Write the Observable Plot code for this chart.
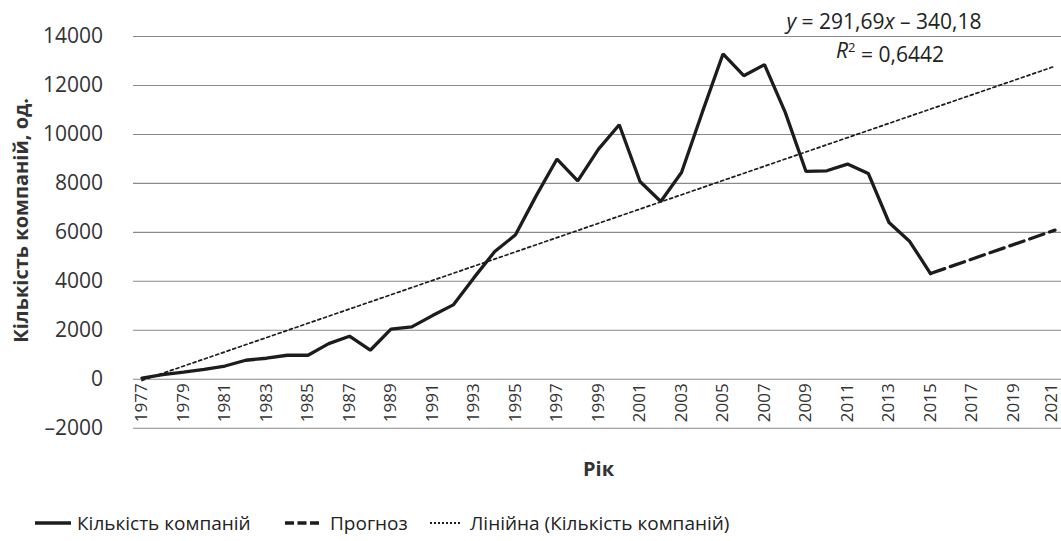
<!DOCTYPE html>
<html>
<head>
<meta charset="utf-8">
<script src="https://cdn.jsdelivr.net/npm/d3@7"></script>
<script src="https://cdn.jsdelivr.net/npm/@observablehq/plot@0.6"></script>
<style>
  body { margin: 0; background: #fff; font-family: "Open Sans", sans-serif; }
  #chart svg { display: block; }
  #legend { position: relative; width: 1061px; height: 51px; color: #222; font-size: 19px; }
  #legend .sw { position: absolute; top: 28px; }
  #legend .lb { position: absolute; top: 20px; line-height: 26px; white-space: nowrap; }
</style>
</head>
<body>
<div id="chart"></div>
<div id="legend"></div>
<script>
// ---- data ----
const years = [1977,1978,1979,1980,1981,1982,1983,1984,1985,1986,1987,1988,1989,1990,
               1991,1992,1993,1994,1995,1996,1997,1998,1999,2000,2001,2002,2003,2004,
               2005,2006,2007,2008,2009,2010,2011,2012,2013,2014,2015];
const companies = [50,190,290,400,540,776,858,980,980,1455,1758,1185,2044,2138,
                   2600,3037,4150,5217,5899,7500,8994,8106,9402,10396,8078,7260,8446,10899,
                   13286,12399,12849,10899,8487,8515,8789,8405,6402,5625,4317];
const forecastYears = [2015, 2021];
const forecastValues = [4317, 6091];
const trendYears = [1977, 2021];
const trendValues = [-48, 12786];
const yTicks = [-2000, 0, 2000, 4000, 6000, 8000, 10000, 12000, 14000];
const xTickLabels = [1977,1979,1981,1983,1985,1987,1989,1991,1993,1995,1997,1999,
                     2001,2003,2005,2007,2009,2011,2013,2015,2017,2019];
const xLastTickLabel = [2021];
const equationLine = "y = 291,69x – 340,18";
const r2Line = "R2 = 0,6442";
const yTitle = "Кількість компаній, од.";
const xTitle = "Рік";
const legendLabels = ["Кількість компаній", "Прогноз", "Лінійна (Кількість компаній)"];

// ---- tables for Plot ----
const mainData = years.map((year, i) => ({year, value: companies[i]}));
const forecastData = forecastYears.map((year, i) => ({year, value: forecastValues[i]}));
const trendData = trendYears.map((year, i) => ({year, value: trendValues[i]}));

const FONT = "'Open Sans', sans-serif";
const INK = "#1c1c1c";
const xLabelStyle = {
  x: d => d, y: () => 0, text: d => String(d), rotate: -90,
  textAnchor: "end", lineAnchor: "middle", fontSize: 17, fill: "#333"
};

const plot = Plot.plot({
  width: 1061,
  height: 490,
  marginLeft: 141.5,
  marginRight: 6.5,
  marginTop: 36,
  marginBottom: 62.3,
  style: {fontFamily: FONT, fontSize: "20px", color: "#333", background: "#fff", overflow: "visible"},
  x: {domain: [1977, 2021], axis: null},
  y: {domain: [-2000, 14000], axis: null},
  marks: [
    Plot.ruleY(yTicks, {stroke: "#8a8a8a", strokeWidth: 1.1, insetLeft: -8.5, insetRight: -6.5}),
    Plot.axisY(yTicks, {
      tickSize: 0, tickPadding: 39, fontSize: 21, fill: "#333", label: null,
      tickFormat: d => d < 0 ? "–" + Math.abs(d) : String(d)
    }),
    Plot.text(xTickLabels, {...xLabelStyle, dy: 4}),
    Plot.text(xLastTickLabel, {...xLabelStyle, dy: 4, dx: -3}),
    Plot.line(trendData, {x: "year", y: "value", stroke: INK, strokeWidth: 1.7, strokeDasharray: "3 3"}),
    Plot.line(forecastData, {x: "year", y: "value", stroke: INK, strokeWidth: 3.3, strokeDasharray: "15 6"}),
    Plot.line(mainData, {x: "year", y: "value", stroke: INK, strokeWidth: 3.3, strokeLinejoin: "miter"}),
    Plot.text([yTitle], {
      frameAnchor: "left", rotate: -90, dx: -120, dy: -12, fontWeight: "bold", fontSize: 20, fill: "#333",
      textAnchor: "middle", lineAnchor: "middle"
    }),
    Plot.text([xTitle], {
      frameAnchor: "bottom", dy: 41, fontWeight: "bold", fontSize: 20, fill: "#333",
      textAnchor: "middle", lineAnchor: "middle"
    }),
    Plot.text([equationLine], {
      frameAnchor: "top-right", dx: -171, dy: -14, fontSize: 21, fill: "#222",
      textAnchor: "middle", lineAnchor: "middle"
    }),
    Plot.text([r2Line], {
      frameAnchor: "top-right", dx: -165, dy: 15, fontSize: 21, fill: "#222",
      textAnchor: "middle", lineAnchor: "middle"
    })
  ]
});
document.getElementById("chart").appendChild(plot);

// rich text for the regression labels (italic variables, superscript)
d3.select(plot).selectAll("text").each(function() {
  const t = d3.select(this);
  const s = this.textContent;
  if (s === equationLine) {
    t.text(null);
    t.append("tspan").attr("font-style", "italic").text("y");
    t.append("tspan").text(" = 291,69");
    t.append("tspan").attr("font-style", "italic").text("x");
    t.append("tspan").text(" – 340,18");
  } else if (s === r2Line) {
    t.text(null);
    t.append("tspan").attr("font-style", "italic").text("R");
    t.append("tspan").attr("dy", "-0.45em").attr("font-size", "13px").text("2");
    t.append("tspan").attr("dy", "0.45em").text(" = 0,6442");
  }
});

// legend
const legend = d3.select("#legend");
const swatches = [
  {x: 35, w: 36, dash: null, sw: 3.5},
  {x: 285, w: 34, dash: "9 3.5", sw: 3.5},
  {x: 430, w: 32, dash: "2 2", sw: 1.8}
];
const labelX = [77, 330, 470];
swatches.forEach((s, i) => {
  const svg = legend.append("svg").attr("class", "sw")
    .style("left", s.x + "px").attr("width", s.w).attr("height", 10);
  svg.append("line").attr("x1", 0).attr("x2", s.w).attr("y1", 5).attr("y2", 5)
    .attr("stroke", INK).attr("stroke-width", s.sw)
    .attr("stroke-dasharray", s.dash);
  legend.append("div").attr("class", "lb").style("left", labelX[i] + "px").text(legendLabels[i]);
});
</script>
</body>
</html>
